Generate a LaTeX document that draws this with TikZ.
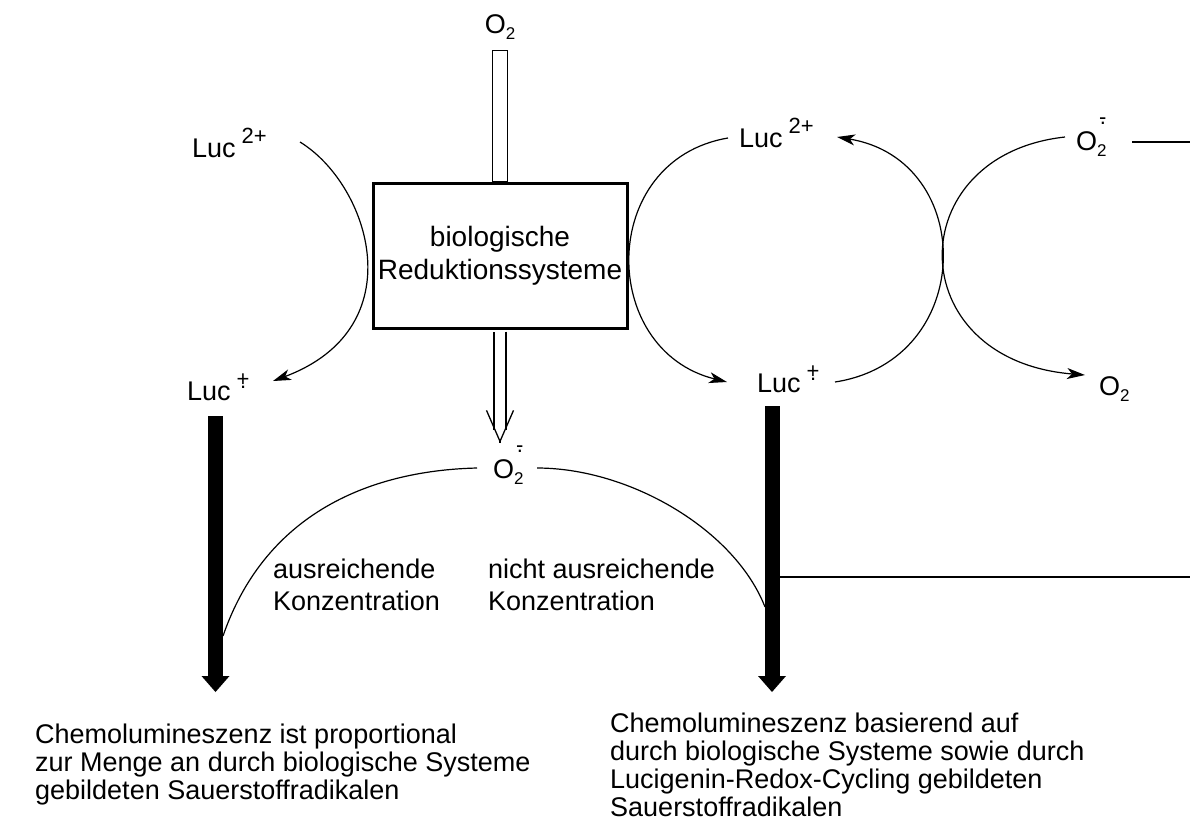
\documentclass[tikz,border=0pt]{standalone}
\usepackage{fontspec}
\setmainfont{Liberation Sans}
\usetikzlibrary{arrows.meta}

% Hoch- und Tiefstellungen fuer die Ionen
\newcommand{\hoch}[1]{\hspace{6pt}\raisebox{14pt}{\fontsize{22}{22}\selectfont #1}}
\newcommand{\tief}[1]{\raisebox{-6pt}{\fontsize{17}{17}\selectfont #1}}
\newcommand{\radplus}{\ooalign{+\cr\hidewidth\raisebox{-2pt}{.}\hidewidth\cr}}
\newcommand{\radminus}{\ooalign{-\cr\hidewidth.\hidewidth\cr}}
\newcommand{\superoxid}{O\rlap{\tief{2}}\hspace{2pt}\raisebox{26pt}{\fontsize{22}{22}\selectfont\radminus}}

\begin{document}
\begin{tikzpicture}[x=1pt, y=-1pt, font=\fontsize{27}{28.3}\selectfont]

    % --- STYLES ---
    \tikzset{
        chem/.style={inner sep=0pt, anchor=base west},
        note/.style={inner sep=0pt, anchor=north west, align=left},
        redbox/.style={draw, line width=3pt, minimum width=254pt, minimum height=145pt,
            align=center, inner sep=0pt, font=\fontsize{28}{33}\selectfont},
        reaction/.style={line width=1.2pt, -{Stealth[length=18pt,width=11pt,inset=5pt]}},
        thinline/.style={line width=1.2pt},
        tube/.style={line width=1.3pt},
        bigarrow/.style={line width=15pt, -{Triangle[width=28pt,length=16pt,line width=0pt]}}
    }

    \useasboundingbox (0,0) rectangle (1190,828);

    % --- LINKER ZWEIG ---
    \node[chem] (lucL2) at (192,157) {Luc\hoch{2+}};
    \node[chem] (lucL) at (187,400) {Luc\hoch{\radplus}};
    \coordinate (chemL) at (215.5,692);

    % --- REDUKTIONSSYSTEME ---
    \node[chem, anchor=base] (o2top) at (500,33) {O\tief{2}};
    \node[redbox] (box) at (500,256) {biologische\\Reduktionssysteme};
    \node[chem] (o2mid) at (493,478) {\superoxid};
    \coordinate (o2tip) at (500,443);

    % --- REDOX-CYCLING ---
    \node[chem] (lucR2) at (739,147) {Luc\hoch{2+}};
    \node[chem] (lucR) at (757,392) {Luc\hoch{\radplus}};
    \node[chem] (o2R) at (1076,150) {\superoxid};
    \node[chem] (o2Rb) at (1099,395) {O\tief{2}};
    \coordinate (chemR) at (772,692);
    \coordinate (edgeTop) at (1190,142);
    \coordinate (edgeMid) at (1190,577);
    \coordinate (hitL) at (223,636);
    \coordinate (hitR) at (765,607);

    % O2 hinein, O2- heraus
    \draw[tube] ([shift={(-7.3,17.5)}]o2top.base) rectangle ([xshift=7.3pt]box.north);
    \draw[tube, double distance=10.7pt, shorten <=1.5pt, shorten >=13pt] (box.south -| o2tip) -- (o2tip);
    \draw[tube, -{Straight Barb[length=31pt,width=27pt]}] ([yshift=0.5pt]o2tip) -- (o2tip);

    % Chemolumineszenz (dicke Pfeile)
    \draw[bigarrow] ([shift={(28.5,16)}]lucL.base west) -- (chemL);
    \draw[bigarrow] ([shift={(15,14)}]lucR.base west) -- (chemR);

    % Reduktion und Redox-Cycling
    \draw[reaction] ([shift={(108,-15)}]lucL2.base west) .. controls (370,185) and (415,328) .. ([shift={(86,-19)}]lucL.base west);
    \draw[reaction] ([shift={(-11,-9)}]lucR2.base west) .. controls (598,160) and (598,350) .. ([shift={(-30,-10)}]lucR.base west);
    \draw[reaction] ([shift={(78,-10)}]lucR.base west) .. controls (977,360) and (977,160) .. ([shift={(98,-10)}]lucR2.base west);
    \draw[reaction] ([shift={(-11,-13)}]o2R.base west) .. controls (900,155) and (900,360) .. ([shift={(-14,-20)}]o2Rb.base west);
    \draw[thinline] ([shift={(56,-8)}]o2R.base west) -- (edgeTop);

    % O2- Konzentration
    \draw[thinline] ([shift={(-16,-10)}]o2mid.base west) .. controls (390,470) and (270,500) .. (hitL);
    \draw[thinline] ([shift={(44,-10)}]o2mid.base west) .. controls (630,468) and (735,530) .. (hitR);
    \draw[thinline, shorten <=7.5pt] (chemR |- edgeMid) -- (edgeMid);

    % Beschriftungen
    \node[note, font=\fontsize{27}{32}\selectfont] (enough) at (273,558.3) {ausreichende\\Konzentration};
    \node[note, font=\fontsize{27}{32}\selectfont] (scarce) at (488,558.3) {nicht ausreichende\\Konzentration};
    \node[note] (resultL) at (35,723.3) {Chemolumineszenz ist proportional\\zur Menge an durch biologische Systeme\\gebildeten Sauerstoffradikalen};
    \node[note] (resultR) at (610,712.3) {Chemolumineszenz basierend auf\\durch biologische Systeme sowie durch\\Lucigenin-Redox-Cycling gebildeten\\Sauerstoffradikalen};

\end{tikzpicture}
\end{document}
